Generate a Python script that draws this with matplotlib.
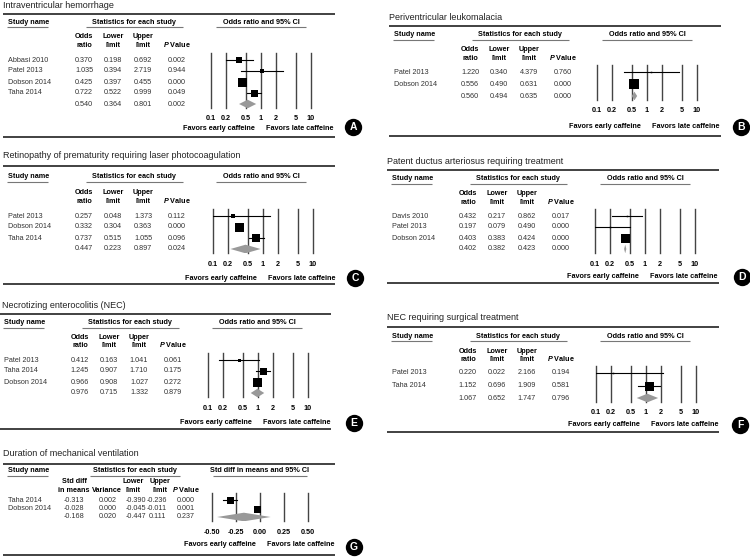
import matplotlib
matplotlib.use('Agg')
import matplotlib.pyplot as plt
from matplotlib.ticker import NullLocator

plt.rcParams['font.family'] = ['Liberation Sans', 'DejaVu Sans']
plt.rcParams['mathtext.fontset'] = 'custom'
plt.rcParams['mathtext.it'] = 'Liberation Sans:bold:italic'
plt.rcParams['mathtext.rm'] = 'Liberation Sans:bold'

#%%
# data

ivh_title = 'Intraventricular hemorrhage'
ivh_names = ['Abbasi 2010', 'Patel 2013', 'Dobson 2014', 'Taha 2014', '']
ivh_or = [0.370, 1.035, 0.425, 0.722, 0.540]
ivh_lo = [0.198, 0.394, 0.397, 0.522, 0.364]
ivh_hi = [0.692, 2.719, 0.455, 0.999, 0.801]
ivh_p = [0.002, 0.944, 0.000, 0.049, 0.002]
ivh_box = [6, 4, 9, 7]

pvl_title = 'Periventricular leukomalacia'
pvl_names = ['Patel 2013', 'Dobson 2014', '']
pvl_or = [1.220, 0.556, 0.560]
pvl_lo = [0.340, 0.490, 0.494]
pvl_hi = [4.379, 0.631, 0.635]
pvl_p = [0.760, 0.000, 0.000]
pvl_box = [1.5, 10]

rop_title = 'Retinopathy of prematurity requiring laser photocoagulation'
rop_names = ['Patel 2013', 'Dobson 2014', 'Taha 2014', '']
rop_or = [0.257, 0.332, 0.737, 0.447]
rop_lo = [0.048, 0.304, 0.515, 0.223]
rop_hi = [1.373, 0.363, 1.055, 0.897]
rop_p = [0.112, 0.000, 0.096, 0.024]
rop_box = [4, 9, 8]

pda_title = 'Patent ductus arteriosus requiring treatment'
pda_names = ['Davis 2010', 'Patel 2013', 'Dobson 2014', '']
pda_or = [0.432, 0.197, 0.403, 0.402]
pda_lo = [0.217, 0.079, 0.383, 0.382]
pda_hi = [0.862, 0.490, 0.424, 0.423]
pda_p = [0.017, 0.000, 0.000, 0.000]
pda_box = [1.5, 1.5, 9]

nec_title = 'Necrotizing enterocolitis (NEC)'
nec_names = ['Patel 2013', 'Taha 2014', 'Dobson 2014', '']
nec_or = [0.412, 1.245, 0.966, 0.976]
nec_lo = [0.163, 0.907, 0.908, 0.715]
nec_hi = [1.041, 1.710, 1.027, 1.332]
nec_p = [0.061, 0.175, 0.272, 0.879]
nec_box = [3, 7, 9]

necs_title = 'NEC requiring surgical treatment'
necs_names = ['Patel 2013', 'Taha 2014', '']
necs_or = [0.220, 1.152, 1.067]
necs_lo = [0.022, 0.696, 0.652]
necs_hi = [2.166, 1.909, 1.747]
necs_p = [0.194, 0.581, 0.796]
necs_box = [1.5, 9]

mv_title = 'Duration of mechanical ventilation'
mv_names = ['Taha 2014', 'Dobson 2014', '']
mv_smd = [-0.313, -0.028, -0.168]
mv_var = [0.002, 0.000, 0.020]
mv_lo = [-0.390, -0.045, -0.447]
mv_hi = [-0.236, -0.011, 0.111]
mv_p = [0.000, 0.001, 0.237]
mv_box = [7, 7]

or_ticks = [0.1, 0.2, 0.5, 1, 2, 5, 10]
or_labels = ['0.1', '0.2', '0.5', '1', '2', '5', '10']
smd_ticks = [-0.50, -0.25, 0.00, 0.25, 0.50]
smd_labels = ['-0.50', '-0.25', '0.00', '0.25', '0.50']

#%%
# layout (pixel units of the 750x558 figure)

W, H = 750, 558
PX = 72 / 100  # points per pixel at dpi 100

or_panels = [
    dict(letter='A', title=ivh_title, names=ivh_names, cols=[ivh_or, ivh_lo, ivh_hi, ivh_p], box=ivh_box,
         x0=0, ax0=211, title_y=5, rule=14, hdr=22, ch=(36, 45), row0=60, dy=11, ticks_y=118, fav=129, bot=137, circ=(353, 127)),
    dict(letter='C', title=rop_title, names=rop_names, cols=[rop_or, rop_lo, rop_hi, rop_p], box=rop_box,
         x0=0, ax0=213, title_y=155, rule=166, hdr=177, ch=(192, 201), row0=216, dy=11, ticks_y=264, fav=278, bot=284, circ=(355, 278)),
    dict(letter='E', title=nec_title, names=nec_names, cols=[nec_or, nec_lo, nec_hi, nec_p], box=nec_box,
         x0=-4, ax0=208, title_y=305, rule=314, hdr=323, ch=(337, 345), row0=360, dy=11, ticks_y=409, fav=422, bot=429, circ=(354, 423)),
    dict(letter='B', title=pvl_title, names=pvl_names, cols=[pvl_or, pvl_lo, pvl_hi, pvl_p], box=pvl_box,
         x0=386, ax0=597, title_y=18, rule=26, hdr=35, ch=(49, 58), row0=72, dy=12, ticks_y=111, fav=126, bot=136, circ=(741, 127)),
    dict(letter='D', title=pda_title, names=pda_names, cols=[pda_or, pda_lo, pda_hi, pda_p], box=pda_box,
         x0=384, ax0=595, title_y=162, rule=170, hdr=179, ch=(193, 202), row0=216, dy=11, ticks_y=265, fav=276, bot=283, circ=(742, 277)),
    dict(letter='F', title=necs_title, names=necs_names, cols=[necs_or, necs_lo, necs_hi, necs_p], box=necs_box,
         x0=384, ax0=596, title_y=318, rule=327, hdr=336, ch=(351, 359), row0=373, dy=12.5, ticks_y=413, fav=424, bot=432, circ=(740, 425)),
]

mv_panel = dict(letter='G', title=mv_title, names=mv_names, cols=[mv_smd, mv_var, mv_lo, mv_hi, mv_p], box=mv_box,
                x0=0, ax0=212, title_y=454, rule=464, hdr=471, ch=(481, 490), row0=500, dy=8.5, ticks_y=532, fav=544, bot=555, circ=(354, 547))

fig = plt.figure(figsize=(W / 100, H / 100), dpi=100)
bg = fig.add_axes([0, 0, 1, 1])
bg.set_xlim(0, W)
bg.set_ylim(H, 0)
bg.axis('off')

FS = 5.2
RULE = '#333333'
ULINE = '#777777'
VLINE = '#444444'


def underline(x1, x2, y):
    bg.plot([x1, x2], [y, y], color=ULINE, lw=0.8, solid_capstyle='butt')


def draw_panel(p, col_x, hdr_x, top_words, bot_words, stat_hdr, plot_hdr, ticks, labels, smd=False):
    x0 = p['x0']
    n = len(p['names'])
    rows = [p['row0'] + i * p['dy'] for i in range(n)]

    bg.text(max(x0 + 3, 2), p['title_y'], p['title'], fontsize=6.5, va='center', ha='left', color='#222222')
    bg.plot([x0 + 3, x0 + 335], [p['rule'], p['rule']], color=RULE, lw=1.3, solid_capstyle='butt')
    bg.plot([x0 + 3, x0 + 335], [p['bot'], p['bot']], color=RULE, lw=1.3, solid_capstyle='butt')

    # header row
    bg.text(x0 + 8, p['hdr'], 'Study name', fontsize=FS, fontweight='bold', va='center', ha='left')
    underline(x0 + 7, x0 + 48, p['hdr'] + 4.5)
    bg.text(stat_hdr[0], p['hdr'], 'Statistics for each study', fontsize=FS, fontweight='bold', va='center', ha='center')
    underline(stat_hdr[1], stat_hdr[2], p['hdr'] + 4.5)
    bg.text(plot_hdr[0], p['hdr'], plot_hdr[3], fontsize=FS, fontweight='bold', va='center', ha='center')
    underline(plot_hdr[1], plot_hdr[2], p['hdr'] + 4.5)

    for cx, tw, bw in zip(hdr_x, top_words, bot_words):
        if tw:
            bg.text(cx, p['ch'][0] + 2.2, tw, fontsize=FS, fontweight='bold', va='baseline', ha='center')
        bg.text(cx, p['ch'][1] + 2.2, bw, fontsize=FS, fontweight='bold', va='baseline', ha='center')

    # table body
    for i, y in enumerate(rows):
        bg.text(x0 + 8, y, p['names'][i], fontsize=FS, va='center', ha='left', color='#333333')
        for cx, col in zip(col_x, p['cols']):
            bg.text(cx, y, f'{col[i]:.3f}', fontsize=FS, va='center', ha='center', color='#333333')

    # forest plot axes, y in figure pixels
    L, R = p['ax0'], p['ax0'] + (96 if smd else 100)
    T, B = rows[0] - 7, rows[-1] + 4
    ax = fig.add_axes([L / W, 1 - B / H, (R - L) / W, (B - T) / H])
    ax.patch.set_alpha(0)
    if smd:
        ax.set_xlim(-0.5, 0.5)
    else:
        ax.set_xscale('log')
        ax.set_xlim(0.1, 10)
        ax.xaxis.set_minor_locator(NullLocator())
    ax.set_ylim(B, T)
    for s in ax.spines.values():
        s.set_visible(False)
    ax.set_yticks([])
    ax.set_xticks(ticks)
    ax.set_xticklabels(labels, fontweight='bold', fontsize=FS)
    ax.tick_params(axis='x', length=0, pad=(p['ticks_y'] - 3.5 - B) * PX)

    for t in ticks:
        ax.axvline(t, color=VLINE, lw=1.0, clip_on=False, zorder=1)

    est, lo, hi = p['cols'][0], p['cols'][-3], p['cols'][-2]
    for i in range(n - 1):
        ax.plot([lo[i], hi[i]], [rows[i], rows[i]], color='black', lw=0.8, zorder=3)
        ax.plot(est[i], rows[i], marker='s', color='black', ms=p['box'][i] * PX, mew=0, zorder=4)
    y = rows[-1]
    h = 4.3
    ax.fill([lo[-1], est[-1], hi[-1], est[-1]], [y, y - h, y, y + h], color='#999999', lw=0, zorder=4)

    bg.text(L + 8, p['fav'], 'Favors early caffeine', fontsize=FS, fontweight='bold', va='center', ha='center')
    bg.text(L + 89, p['fav'], 'Favors late caffeine', fontsize=FS, fontweight='bold', va='center', ha='center')

    cxy = p['circ']
    bg.plot(cxy[0], cxy[1], marker='o', ms=12.5, color='black', mew=0, clip_on=False)
    bg.text(cxy[0], cxy[1] + 0.3, p['letter'], color='white', fontsize=7.5, fontweight='bold', va='center', ha='center')


for p in or_panels:
    x0 = p['x0']
    col_x = [x0 + 84, x0 + 113, x0 + 143, x0 + 177]
    draw_panel(p, col_x, col_x,
               ['Odds', 'Lower', 'Upper', ''],
               ['ratio', 'limit', 'limit', '$P$ Value'],
               (x0 + 134, x0 + 86, x0 + 183),
               (x0 + 261, x0 + 216, x0 + 306, 'Odds ratio and 95% CI'),
               or_ticks, or_labels)

draw_panel(mv_panel, [74, 108, 136, 157, 186], [74, 107, 133, 160, 186],
           ['Std diff', '', 'Lower', 'Upper', ''],
           ['in means', 'Variance', 'limit', 'limit', '$P$ Value'],
           (135, 90, 180),
           (260, 213, 307, 'Std diff in means and 95% CI'),
           smd_ticks, smd_labels, smd=True)

fig.savefig('out.png', dpi=100, facecolor='white')
